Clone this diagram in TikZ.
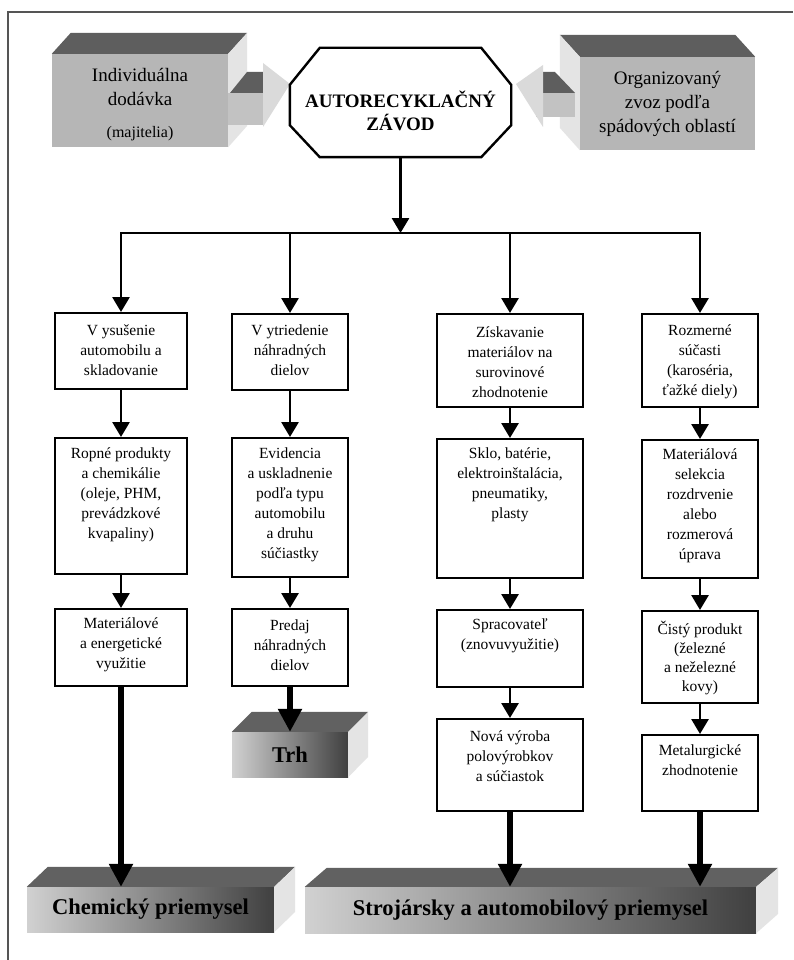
\documentclass[tikz,border=0pt]{standalone}
\usepackage{fontspec}
\setmainfont{Liberation Serif}
\usetikzlibrary{arrows.meta, positioning, calc}
\definecolor{cframe}{HTML}{555555}
\definecolor{ctop}{HTML}{5E5E5E}
\definecolor{cfront}{HTML}{B6B6B6}
\definecolor{cside}{HTML}{E4E4E4}
\definecolor{chead}{HTML}{DADADA}
\definecolor{cshaft}{HTML}{C2C2C2}
\tikzset{
  stage/.style={draw, line width=1.6pt, fill=white, anchor=north, inner sep=0pt},
  stagetext/.style={align=center, inner sep=0pt, font=\fontsize{15.5}{20}\selectfont},
  flow/.style={-{Triangle[length=15pt, width=17pt]}, line width=2.8pt},
  feed/.style={-{Triangle[length=23pt, width=23pt]}, line width=5.5pt},
  block/.style={fill=cfront, inner sep=0pt},
  blocktext/.style={align=center, inner sep=0pt, font=\fontsize{19}{24}\selectfont},
  planttext/.style={align=center, inner sep=0pt, font=\fontsize{19}{23}\selectfont\bfseries},
  bar/.style={inner sep=0pt, left color=black!18, middle color=black!6, right color=black!75,
    font=\fontsize{22.5}{27}\selectfont\bfseries},
}

\begin{document}
\begin{tikzpicture}[x=1pt, y=-1pt]
  \useasboundingbox (0,0) rectangle (793,960);
  \fill[white] (0,0) rectangle (793,960);
  \draw[cframe, line width=1.5pt] (8,960) -- (8,12) -- (793,12);

  % supply blocks
  \node[block, minimum width=176, minimum height=93] (indiv) at (140,100.5) {};
  \fill[ctop] (indiv.north west) -- ++(19,-21) -- ([shift={(19,-21)}]indiv.north east) -- (indiv.north east) -- cycle;
  \fill[cside] (indiv.north east) -- ++(19,-21) -- ++(0,93) -- (indiv.south east) -- cycle;
  \node[blocktext] (indivtext) at (140,105) {Individuálna\\dodávka\\[8pt]{\fontsize{16}{20}\selectfont(majitelia)}};

  \node[block, minimum width=175, minimum height=93] (zone) at (667.5,103.5) {};
  \fill[ctop] (zone.north east) -- ++(-20,-22) -- ([shift={(-20,-22)}]zone.north west) -- (zone.north west) -- cycle;
  \fill[cside] (zone.north west) -- ++(-20,-22) -- ++(0,93) -- (zone.south west) -- cycle;
  \node[blocktext] (zonetext) at (667.5,104) {Organizovaný\\zvoz podľa\\spádových oblastí};

  % block arrows
  \fill[cshaft] (228,93) rectangle (263,125);
  \fill[ctop] (230,93) -- (247,72) -- (270,72) -- (263,93) -- cycle;
  \fill[chead] (263,63) -- (290,84) -- (263,127) -- cycle;
  \fill[cshaft] (536,93) rectangle (575,117);
  \fill[ctop] (575,93) -- (555,72) -- (535,72) -- (543,93) -- cycle;
  \fill[chead] (543,65) -- (516,84) -- (543,127) -- cycle;

  % plant
  \node[minimum width=221, minimum height=109, inner sep=0pt] (plant) at (400.5,102.5) {};
  \draw[line width=2.4pt, fill=white] ([xshift=30pt]plant.north west) -- ([xshift=-30pt]plant.north east)
    -- ([yshift=-37pt]plant.north east) -- ([yshift=32pt]plant.south east) -- ([xshift=-30pt]plant.south east)
    -- ([xshift=30pt]plant.south west) -- ([yshift=32pt]plant.south west) -- ([yshift=-37pt]plant.north west) -- cycle;
  \node[planttext] (plantname) at (400.5,111) {AUTORECYKLAČNÝ\\ZÁVOD};
  \coordinate (hub) at (400.5,233);
  \draw[flow] (plant) -- (hub);

  % column 1
  \node[stage, minimum width=132, minimum height=76] (v1) at (121,312) {};
  \node[stage, minimum width=132, minimum height=136] (v2) at (121,437) {};
  \node[stage, minimum width=132, minimum height=77] (v3) at (121,608) {};
  \node[stagetext] (v1t) at (121,350) {V ysušenie\\automobilu a\\skladovanie};
  \node[stagetext] (v2t) at (121,495) {Ropné produkty\\a chemikálie\\(oleje, PHM,\\prevádzkové\\kvapaliny)};
  \node[stagetext] (v3t) at (121,645) {Materiálové\\a energetické\\využitie};
  % column 2
  \node[stage, minimum width=116, minimum height=76] (t1) at (290,313) {};
  \node[stage, minimum width=116, minimum height=139] (t2) at (290,437) {};
  \node[stage, minimum width=116, minimum height=77] (t3) at (290,608) {};
  \node[stagetext] (t1t) at (290,350) {V ytriedenie\\náhradných\\dielov};
  \node[stagetext] (t2t) at (290,505) {Evidencia\\a uskladnenie\\podľa typu\\automobilu\\a druhu\\súčiastky};
  \node[stagetext] (t3t) at (290,645) {Predaj\\náhradných\\dielov};
  % column 3
  \node[stage, minimum width=146, minimum height=93] (z1) at (510,313) {};
  \node[stage, minimum width=146, minimum height=139] (z2) at (510,438) {};
  \node[stage, minimum width=146, minimum height=77] (z3) at (510,609) {};
  \node[stage, minimum width=146, minimum height=92] (z4) at (510,718) {};
  \node[stagetext] (z1t) at (510,362) {Získavanie\\materiálov na\\surovinové\\zhodnotenie};
  \node[stagetext] (z2t) at (510,485) {Sklo, batérie,\\elektroinštalácia,\\pneumatiky,\\plasty};
  \node[stagetext] (z3t) at (510,636) {Spracovateľ\\(znovuvyužitie)};
  \node[stagetext] (z4t) at (510,756) {Nová výroba\\polovýrobkov\\a súčiastok};
  % column 4
  \node[stage, minimum width=116, minimum height=93] (r1) at (700,313) {};
  \node[stage, minimum width=116, minimum height=138] (r2) at (700,439) {};
  \node[stage, minimum width=116, minimum height=92] (r3) at (700,610) {};
  \node[stage, minimum width=116, minimum height=76] (r4) at (700,734) {};
  \node[stagetext] (r1t) at (700,362) {Rozmerné\\súčasti\\(karoséria,\\ťažké diely)};
  \node[stagetext] (r2t) at (700,506) {Materiálová\\selekcia\\rozdrvenie\\alebo\\rozmerová\\úprava};
  \node[stagetext, font=\fontsize{15.5}{19}\selectfont] (r3t) at (700,658) {Čistý produkt\\(železné\\a neželezné\\kovy)};
  \node[stagetext] (r4t) at (700,760) {Metalurgické\\zhodnotenie};

  % branching
  \draw[flow] (hub) -| (v1);
  \draw[flow] (hub) -| (r1);
  \draw[flow] (hub -| t1) -- (t1);
  \draw[flow] (hub -| z1) -- (z1);
  \draw[flow] (v1) -- (v2);
  \draw[flow] (v2) -- (v3);
  \draw[flow] (t1) -- (t2);
  \draw[flow] (t2) -- (t3);
  \draw[flow] (z1) -- (z2);
  \draw[flow] (z2) -- (z3);
  \draw[flow] (z3) -- (z4);
  \draw[flow] (r1) -- (r2);
  \draw[flow] (r2) -- (r3);
  \draw[flow] (r3) -- (r4);

  % outlets
  \node[bar, minimum width=247, minimum height=45] (chem) at (150.5,909.5) {Chemický priemysel};
  \fill[black!62] (chem.north west) -- ++(21,-20) -- ([shift={(21,-20)}]chem.north east) -- (chem.north east) -- cycle;
  \fill[cside] (chem.north east) -- ++(21,-20) -- ++(0,45) -- (chem.south east) -- cycle;
  \node[bar, minimum width=451, minimum height=46] (mech) at (530.5,910) {Strojársky a automobilový priemysel};
  \fill[black!62] (mech.north west) -- ++(22,-19) -- ([shift={(22,-19)}]mech.north east) -- (mech.north east) -- cycle;
  \fill[cside] (mech.north east) -- ++(22,-19) -- ++(0,46) -- (mech.south east) -- cycle;
  \node[bar, minimum width=116, minimum height=45] (market) at (290,754.5) {Trh};
  \fill[black!62] (market.north west) -- ++(20,-20) -- ([shift={(20,-20)}]market.north east) -- (market.north east) -- cycle;
  \fill[cside] (market.north east) -- ++(20,-20) -- ++(0,45) -- (market.south east) -- cycle;

  \draw[feed] (v3) -- (v3 |- chem.north);
  \draw[feed] (t3) -- (t3 |- market.north);
  \draw[feed] (z4) -- (z4 |- mech.north);
  \draw[feed] (r4) -- (r4 |- mech.north);
\end{tikzpicture}
\end{document}
